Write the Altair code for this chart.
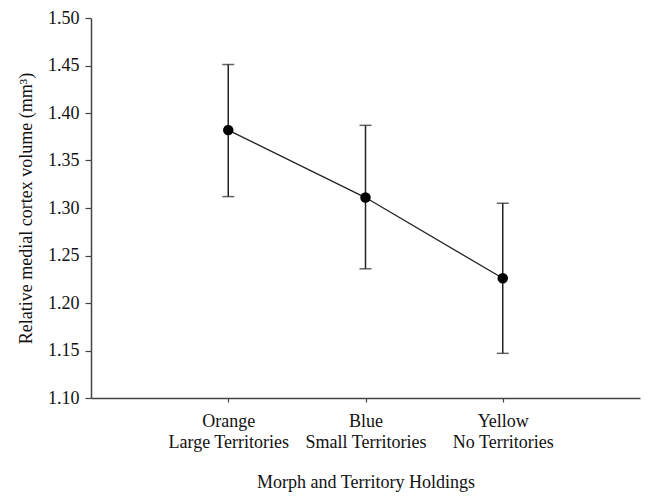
import altair as alt
import pandas as pd

positions = [1, 2, 3]
morphs = ["Orange", "Blue", "Yellow"]
territories = ["Large Territories", "Small Territories", "No Territories"]
means = [1.382, 1.311, 1.226]
upper = [1.451, 1.387, 1.305]
lower = [1.312, 1.236, 1.147]

df = pd.DataFrame({"pos": positions, "morph": morphs, "terr": territories,
                   "mean": means, "hi": upper, "lo": lower})

label_expr = ("datum.value == 1 ? ['Orange', 'Large Territories'] : "
              "datum.value == 2 ? ['Blue', 'Small Territories'] : "
              "datum.value == 3 ? ['Yellow', 'No Territories'] : ''")

FONT = "Liberation Serif"
x = alt.X("pos:Q", scale=alt.Scale(domain=[0, 4], nice=False),
          axis=alt.Axis(values=[1, 2, 3], labelExpr=label_expr,
                        title="Morph and Territory Holdings",
                        grid=False, tickSize=4, labelPadding=10,
                        labelLineHeight=21, titlePadding=22))
y_axis = alt.Axis(values=[1.10, 1.15, 1.20, 1.25, 1.30, 1.35, 1.40, 1.45, 1.50],
                  format=".2f", title="Relative medial cortex volume (mm³)",
                  grid=False, tickSize=6, labelPadding=6, titlePadding=12)
yscale = alt.Scale(domain=[1.10, 1.50], nice=False, zero=False)

base = alt.Chart(df)
line = base.mark_line(color="#222222", strokeWidth=1.3).encode(
    x=x, y=alt.Y("mean:Q", scale=yscale, axis=y_axis))
rules = base.mark_rule(color="#222222", strokeWidth=1.5).encode(
    x="pos:Q", y="lo:Q", y2="hi:Q")
caps_hi = base.mark_tick(color="#222222", orient="horizontal", size=12, thickness=1.5).encode(
    x="pos:Q", y="hi:Q")
caps_lo = base.mark_tick(color="#222222", orient="horizontal", size=12, thickness=1.5).encode(
    x="pos:Q", y="lo:Q")
pts = base.mark_point(filled=True, color="black", opacity=1, size=110).encode(
    x="pos:Q", y="mean:Q")

chart = alt.layer(line, rules, caps_hi, caps_lo, pts).properties(
    width=549, height=380,
    autosize=alt.AutoSizeParams(type="none"),
    padding={"left": 83, "top": 10, "right": 3, "bottom": 96},
).configure_view(stroke=None).configure_axis(
    domainColor="#444444", tickColor="#444444", domainWidth=1.5, tickWidth=1.2,
    labelFont=FONT, titleFont=FONT, labelFontSize=18, titleFontSize=18,
    labelColor="#111111", titleColor="#111111", titleFontWeight="normal",
)

chart.save("out.html", embed_options={"renderer": "svg", "actions": False})
